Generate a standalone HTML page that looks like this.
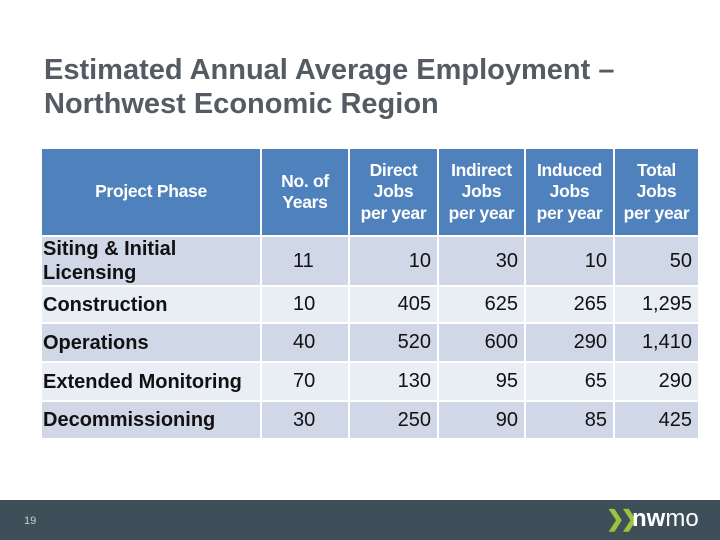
<!DOCTYPE html>
<html><head><meta charset="utf-8"><style>
body{margin:0;width:720px;height:540px;position:relative;background:#fff;font-family:"Liberation Sans",Arial,sans-serif;overflow:hidden}
.t{position:absolute;left:44px;top:53px;font-size:29px;font-weight:bold;color:#555b62;line-height:34px;letter-spacing:0px}
.c{position:absolute;box-sizing:border-box;display:flex;align-items:center;font-size:20px;color:#111}
.h{background:#4f81bd;color:#fff;font-weight:bold;font-size:17.5px;justify-content:center;text-align:center;line-height:21.5px;letter-spacing:-0.3px}
.d{background:#d0d8e8}.l{background:#e9edf4}
.b{font-weight:bold;padding-left:1px;line-height:24px;letter-spacing:0px}
.r{justify-content:flex-end;padding-right:6px}
.y{padding-left:31px}
.footer{position:absolute;left:0;top:500px;width:720px;height:40px;background:#3f4f5a}
</style></head><body>
<div class="t">Estimated Annual Average Employment –<br>Northwest Economic Region</div>
<div id="tbl"></div>
<div class="footer">
<div style="position:absolute;left:24px;top:15px;font-size:11px;color:#c8cdd2">19</div>
<div style="position:absolute;left:606px;top:6px;font-size:22px;font-weight:bold;color:#9ac43c;letter-spacing:-4px">❯❯</div>
<div style="position:absolute;left:632px;top:5px;font-size:24px;color:#fff"><b>nw</b>mo</div>
</div>
<script>
const phases=["Siting & Initial<br>Licensing","Construction","Operations","Extended Monitoring","Decommissioning"];
const years=["11","10","40","70","30"];
const direct=["10","405","520","130","250"];
const indirect=["30","625","600","95","90"];
const induced=["10","265","290","65","85"];
const total=["50","1,295","1,410","290","425"];
const headers=["Project Phase","No. of<br>Years","Direct<br>Jobs<br>per year","Indirect<br>Jobs<br>per year","Induced<br>Jobs<br>per year","Total<br>Jobs<br>per year"];
const xs=[42,262,350,439,526,615,700];
const ys=[[149,235],[237,285],[287,322],[324,361],[363,400],[402,438]];
const tbl=document.getElementById('tbl');
function cell(x0,x1,y0,y1,cls,html){const e=document.createElement('div');e.className='c '+cls;e.style.left=x0+'px';e.style.top=y0+'px';e.style.width=(x1-x0-2)+'px';e.style.height=(y1-y0)+'px';e.innerHTML=html;tbl.appendChild(e);return e;}
headers.forEach((h,i)=>{const e=cell(xs[i],xs[i+1],ys[0][0],ys[0][1],'h',h);

});
phases.forEach((p,r)=>{const [y0,y1]=ys[r+1];const bg=(r%2===0)?'d':'l';
const vals=[p,years[r],direct[r],indirect[r],induced[r],total[r]];
vals.forEach((v,i)=>{let cls=bg+' '+(i===0?'b':(i===1?'y':'r'));
const e=cell(xs[i],xs[i+1],y0,y1,cls,v.replace('& ','&amp; '));

});});
</script>
</body></html>
